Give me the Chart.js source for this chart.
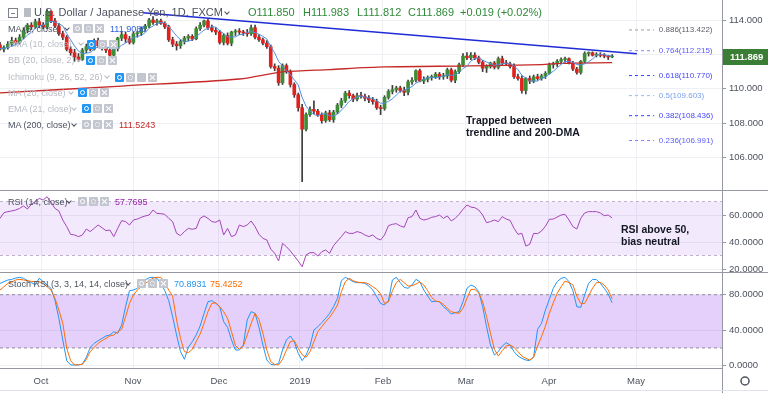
<!DOCTYPE html>
<html>
<head>
<meta charset="utf-8">
<script src="https://cdn.jsdelivr.net/npm/chart.js@4.4.1/dist/chart.umd.min.js"></script>
<style>
body { margin: 0; background: #fff; }
#wrap { position: relative; width: 768px; height: 393px; overflow: hidden; font-family: "Liberation Sans", Arial, sans-serif; }
#c { position: absolute; left: 0; top: 0; }
.t { position: absolute; white-space: nowrap; font-size: 9px; line-height: 12px; color: #4c525e; }
.off { color: #b7bac3; }
.hd { font-size: 11px; line-height: 13px; color: #4c525e; }
.px { font-size: 11px; line-height: 13px; color: #2f8a3a; }
.note { font-size: 10.5px; line-height: 11.5px; font-weight: bold; color: #131722; }
.ic { position: absolute; width: 9px; height: 9px; background: #c3c6ce; border-radius: 1px; }
.ic.on { background: #2196f3; }
.ic.eye::after { content: ""; position: absolute; left: 2px; top: 2px; width: 3px; height: 3px; border: 1px solid #fff; border-radius: 50%; }
.ic.gear::after { content: ""; position: absolute; left: 2px; top: 2px; width: 3px; height: 3px; border: 1px dotted #fff; border-radius: 50%; }
.ic.cls::before, .ic.cls::after { content: ""; position: absolute; left: 4px; top: 1px; width: 1px; height: 7px; background: #fff; transform: rotate(45deg); }
.ic.cls::after { transform: rotate(-45deg); }
.chev { position: absolute; width: 3px; height: 3px; border-right: 1px solid #4c525e; border-bottom: 1px solid #4c525e; transform: rotate(45deg); }
.sq { position: absolute; width: 8px; height: 8px; border: 1px solid #7d828c; }
.sq::after { content: ""; position: absolute; left: 2px; top: 4px; width: 4px; height: 1px; background: #7d828c; }
.flag { position: absolute; width: 7px; height: 9px; background: #b8bcc5; }
</style>
</head>
<body>
<div id="wrap">
<canvas id="c" width="768" height="393"></canvas>

<div class="sq" style="left:8px;top:8px"></div>
<div class="flag" style="left:24px;top:8px"></div>
<div class="t hd" style="left:34px;top:6px">U.S. Dollar / Japanese Yen, 1D, FXCM</div>
<div class="chev" style="left:225px;top:10px"></div>
<div class="t px" style="left:248px;top:6px">O111.850</div>
<div class="t px" style="left:303px;top:6px">H111.983</div>
<div class="t px" style="left:357px;top:6px">L111.812</div>
<div class="t px" style="left:408px;top:6px">C111.869</div>
<div class="t px" style="left:460px;top:6px">+0.019 (+0.02%)</div>

<div class="t" style="left:8px;top:23px">MA (5, close)</div>
<div class="chev" style="left:65px;top:26px"></div>
<div class="ic eye" style="left:73px;top:24px"></div><div class="ic gear" style="left:84px;top:24px"></div><div class="ic cls" style="left:95px;top:24px"></div>
<div class="t" style="left:110px;top:23px;color:#2f5fd8">111.9086</div>

<div class="t off" style="left:8px;top:38px">EMA (10, close)</div>
<div class="chev" style="left:79px;top:41px;border-color:#b7bac3"></div>
<div class="ic eye on" style="left:87px;top:40px"></div><div class="ic gear" style="left:98px;top:40px"></div><div class="ic cls" style="left:109px;top:40px"></div>

<div class="t off" style="left:8px;top:54px">BB (20, close, 2)</div>
<div class="chev" style="left:77px;top:57px;border-color:#b7bac3"></div>
<div class="ic eye on" style="left:86px;top:56px"></div><div class="ic gear" style="left:97px;top:56px"></div><div class="ic cls" style="left:108px;top:56px"></div>

<div class="t off" style="left:8px;top:71px">Ichimoku (9, 26, 52, 26)</div>
<div class="chev" style="left:105px;top:74px;border-color:#b7bac3"></div>
<div class="ic eye on" style="left:115px;top:73px"></div><div class="ic gear" style="left:126px;top:73px"></div><div class="ic" style="left:137px;top:73px"></div><div class="ic cls" style="left:148px;top:73px"></div>

<div class="t off" style="left:8px;top:87px">MA (20, close)</div>
<div class="chev" style="left:69px;top:90px;border-color:#b7bac3"></div>
<div class="ic eye on" style="left:78px;top:88px"></div><div class="ic gear" style="left:89px;top:88px"></div><div class="ic cls" style="left:100px;top:88px"></div>

<div class="t off" style="left:8px;top:103px">EMA (21, close)</div>
<div class="chev" style="left:72px;top:106px;border-color:#b7bac3"></div>
<div class="ic eye on" style="left:82px;top:104px"></div><div class="ic gear" style="left:93px;top:104px"></div><div class="ic cls" style="left:104px;top:104px"></div>

<div class="t" style="left:8px;top:119px">MA (200, close)</div>
<div class="chev" style="left:72px;top:122px"></div>
<div class="ic eye" style="left:82px;top:120px"></div><div class="ic gear" style="left:93px;top:120px"></div><div class="ic cls" style="left:104px;top:120px"></div>
<div class="t" style="left:119px;top:119px;color:#c62828">111.5243</div>

<div class="t" style="left:8px;top:196px">RSI (14, close)</div>
<div class="chev" style="left:67px;top:199px"></div>
<div class="ic eye" style="left:78px;top:197px"></div><div class="ic gear" style="left:89px;top:197px"></div><div class="ic cls" style="left:100px;top:197px"></div>
<div class="t" style="left:115px;top:196px;color:#9c27b0">57.7695</div>

<div class="t" style="left:8px;top:278px">Stoch RSI (3, 3, 14, 14, close)</div>
<div class="chev" style="left:126px;top:281px"></div>
<div class="ic eye" style="left:137px;top:279px"></div><div class="ic gear" style="left:148px;top:279px"></div><div class="ic cls" style="left:159px;top:279px"></div>
<div class="t" style="left:174px;top:278px;color:#2196f3">70.8931</div>
<div class="t" style="left:210px;top:278px;color:#ff6d00">75.4252</div>

<div class="t note" style="left:466px;top:115px">Trapped between<br>trendline and 200-DMA</div>
<div class="t note" style="left:621px;top:224px">RSI above 50,<br>bias neutral</div>
</div>

<script>
// daily candles, bar index 0 = mid Sep 2018, last = 24 Apr 2019
const opens = [
  112.55,112.30,112.40,112.60,112.80,112.70,113.00,113.40,113.70,113.60,
  113.90,113.70,113.60,114.50,113.95,113.65,113.20,113.00,112.30,112.10,
  111.85,111.70,112.25,112.45,112.30,112.80,112.50,112.35,112.25,111.95,
  112.35,112.95,113.15,112.90,112.70,113.20,113.25,113.50,113.65,114.00,
  113.85,113.95,113.80,113.60,112.85,112.60,112.50,112.75,112.95,113.05,
  112.90,113.50,113.70,113.95,113.55,113.40,113.30,112.70,113.10,112.65,
  113.30,113.35,113.30,113.25,113.20,113.55,113.00,112.85,112.65,112.45,
  111.30,111.20,110.35,111.35,111.00,110.25,109.65,108.90,107.65,108.50,
  108.80,108.70,108.50,108.15,108.60,108.20,108.65,109.05,109.30,109.75,
  109.60,109.40,109.60,109.55,109.45,109.35,109.25,108.90,108.85,109.50,
  109.85,109.95,110.05,109.90,109.80,110.40,110.50,111.05,110.45,110.55,
  110.65,110.70,110.85,110.70,110.75,111.10,110.50,111.00,111.40,111.90,
  111.80,111.95,111.80,111.55,111.20,111.30,111.50,111.25,111.75,111.50,
  111.45,111.30,110.70,110.60,109.90,110.60,110.45,110.70,110.60,110.75,
  110.90,111.40,111.45,111.60,111.70,111.75,111.50,111.15,110.95,111.60,
  112.05,112.10,111.95,112.00,111.95,111.90,111.85
];
const highs = [
  112.70,112.50,112.75,113.00,112.95,113.15,113.55,113.80,113.85,114.05,
  114.10,113.85,114.60,114.55,114.10,113.80,113.35,113.10,112.45,112.30,
  112.05,112.35,112.60,112.55,112.90,112.95,112.65,112.50,112.40,112.40,
  113.00,113.35,113.30,113.05,113.30,113.35,113.60,113.75,114.10,114.20,
  114.05,114.05,113.90,113.70,113.00,112.75,112.85,113.05,113.15,113.15,
  113.60,113.85,114.00,114.05,113.70,113.55,113.40,113.20,113.25,113.35,
  113.45,113.50,113.40,113.45,113.70,113.70,113.15,112.95,112.80,112.55,
  111.45,111.35,111.45,111.45,111.10,110.35,109.75,109.10,108.60,108.95,
  109.30,108.80,108.60,108.70,108.75,108.75,109.15,109.45,109.85,109.90,
  109.70,109.75,109.80,109.70,109.60,109.50,109.40,109.05,109.60,109.95,
  110.20,110.15,110.15,110.10,110.50,110.65,111.10,111.15,110.70,110.75,
  110.80,110.95,110.95,110.90,111.20,111.20,111.10,111.50,112.05,112.10,
  112.10,112.10,111.90,111.65,111.40,111.55,111.60,111.85,111.90,111.65,
  111.55,111.45,110.85,110.75,110.65,110.75,110.80,110.85,110.85,111.00,
  111.50,111.55,111.70,111.80,111.85,111.80,111.60,111.25,111.65,112.15,
  112.15,112.15,112.10,112.10,112.05,111.95,111.983
];
const lows = [
  112.25,112.15,112.30,112.45,112.55,112.60,112.90,113.25,113.45,113.50,
  113.55,113.50,113.50,113.85,113.55,113.10,112.85,112.20,111.95,111.60,
  111.60,111.65,112.10,112.20,112.25,112.40,112.25,112.10,111.40,111.80,
  112.20,112.80,112.70,112.60,112.60,113.00,113.10,113.35,113.55,113.75,
  113.70,113.75,113.50,112.75,112.45,112.25,112.35,112.60,112.80,112.80,
  112.85,113.40,113.60,113.45,113.30,113.15,112.60,112.55,112.55,112.50,
  113.10,113.15,113.10,113.05,113.10,112.90,112.75,112.55,112.35,111.20,
  111.05,110.20,110.25,110.90,110.10,109.50,108.70,104.60,107.55,108.40,
  108.55,108.40,108.00,108.05,108.10,108.05,108.55,108.90,109.20,109.45,
  109.25,109.30,109.45,109.30,109.20,109.10,108.80,108.50,108.75,109.40,
  109.70,109.80,109.80,109.60,109.65,110.25,110.40,110.40,110.30,110.40,
  110.50,110.60,110.55,110.55,110.60,110.40,110.35,110.90,111.30,111.70,
  111.70,111.70,111.45,111.00,110.95,111.20,111.15,111.15,111.40,111.35,
  111.20,110.60,110.50,109.75,109.70,110.30,110.35,110.50,110.50,110.60,
  110.85,111.20,111.30,111.45,111.55,111.45,111.05,110.85,110.85,111.50,
  111.90,111.90,111.85,111.85,111.80,111.70,111.812
];
const closes = [
  112.30,112.40,112.60,112.80,112.70,113.00,113.40,113.70,113.60,113.90,
  113.70,113.60,114.50,113.95,113.65,113.20,113.00,112.30,112.10,111.85,
  111.70,112.25,112.45,112.30,112.80,112.50,112.35,112.25,111.95,112.35,
  112.95,113.15,112.90,112.70,113.20,113.25,113.50,113.65,114.00,113.85,
  113.95,113.80,113.60,112.85,112.60,112.50,112.75,112.95,113.05,112.90,
  113.50,113.70,113.95,113.55,113.40,113.30,112.70,113.10,112.65,113.30,
  113.35,113.30,113.25,113.20,113.55,113.00,112.85,112.65,112.45,111.30,
  111.20,110.35,111.35,111.00,110.25,109.65,108.90,107.65,108.50,108.80,
  108.70,108.50,108.15,108.60,108.20,108.65,109.05,109.30,109.75,109.60,
  109.40,109.60,109.55,109.45,109.35,109.25,108.90,108.85,109.50,109.85,
  109.95,110.05,109.90,109.80,110.40,110.50,111.05,110.45,110.55,110.65,
  110.70,110.85,110.70,110.75,111.10,110.50,111.00,111.40,111.90,111.80,
  111.95,111.80,111.55,111.20,111.30,111.50,111.25,111.75,111.50,111.45,
  111.30,110.70,110.60,109.90,110.60,110.45,110.70,110.60,110.75,110.90,
  111.40,111.45,111.60,111.70,111.75,111.50,111.15,110.95,111.60,112.05,
  112.10,111.95,112.00,111.95,111.90,111.85,111.869
];
const ma5 = [
  112.35,112.35,112.40,112.50,112.56,112.70,112.90,113.12,113.28,113.52,
  113.66,113.70,113.86,113.93,113.88,113.78,113.66,113.22,112.85,112.49,
  112.19,112.04,112.07,112.11,112.30,112.46,112.48,112.44,112.37,112.28,
  112.37,112.53,112.66,112.81,112.98,113.04,113.11,113.26,113.52,113.65,
  113.79,113.85,113.84,113.61,113.36,113.07,112.86,112.73,112.77,112.83,
  113.03,113.22,113.42,113.52,113.62,113.58,113.38,113.21,113.03,113.01,
  113.02,113.14,113.17,113.28,113.33,113.26,113.17,113.05,112.90,112.45,
  112.09,111.59,111.33,111.04,110.83,110.52,110.23,109.49,108.99,108.70,
  108.51,108.43,108.53,108.55,108.43,108.42,108.53,108.76,108.99,109.27,
  109.42,109.53,109.58,109.52,109.47,109.44,109.30,109.16,109.17,109.27,
  109.41,109.64,109.85,109.91,110.02,110.13,110.33,110.44,110.59,110.64,
  110.68,110.64,110.69,110.73,110.82,110.78,110.81,110.95,111.18,111.32,
  111.61,111.77,111.80,111.66,111.56,111.47,111.36,111.40,111.46,111.49,
  111.45,111.34,111.11,110.79,110.62,110.45,110.45,110.45,110.62,110.68,
  110.87,111.02,111.22,111.41,111.58,111.60,111.54,111.41,111.39,111.45,
  111.57,111.73,111.94,112.01,111.98,111.93,111.91
];
// 200-day MA read at a few bars
const ma200Bars = [0, 31, 61, 72, 84, 98, 120, 138, 143, 156];
const ma200Vals = [109.76, 110.16, 110.57, 110.98, 111.12, 111.27, 111.33, 111.41, 111.48, 111.52];
// falling trendline from Oct high
const trendBars = [36.4, 162.3];
const trendVals = [114.42, 112.04];
// fibonacci retracement
const fibRatios = ['0.886', '0.764', '0.618', '0.5', '0.382', '0.236'];
const fibPrices = [113.422, 112.215, 110.770, 109.603, 108.436, 106.991];
const fibBars = [160.3, 166.7];
const fibLabelBar = 167.9;

const rsi = [
  57.5,61.7,62.5,63.0,63.7,64.9,66.7,64.4,67.9,69.9,
  72.3,71.1,73.6,69.4,64.9,63.0,56.3,51.4,45.7,45.2,
  44.0,45.2,49.6,47.7,50.1,52.6,50.6,48.4,48.9,44.0,
  50.1,55.8,55.1,52.6,56.3,57.0,58.3,59.3,60.0,63.7,
  61.2,61.0,60.5,57.5,55.1,46.4,44.7,47.7,50.1,49.4,
  50.1,57.5,59.3,57.5,55.1,54.6,56.3,45.2,50.1,44.0,
  45.2,52.6,51.4,52.6,55.6,51.4,45.7,42.7,41.5,34.8,
  31.6,25.9,39.0,36.5,33.3,29.6,25.9,21.7,30.4,32.1,
  32.1,29.6,32.8,34.1,31.6,37.3,40.7,44.0,47.7,46.4,
  46.4,47.7,46.9,45.2,44.0,45.2,42.7,41.5,45.2,52.1,
  53.1,53.6,51.9,50.9,58.0,58.8,63.7,57.5,56.3,57.0,
  58.3,58.8,60.0,57.5,59.3,55.6,57.5,60.5,64.2,67.4,
  65.9,65.4,63.7,60.0,54.3,55.1,56.3,55.1,58.8,57.0,
  56.0,50.1,45.7,46.4,37.0,38.3,46.4,46.2,48.1,51.6,
  56.8,57.0,58.5,60.0,60.5,56.3,51.4,49.6,57.5,61.5,
  62.5,62.5,62.5,61.5,59.5,60.0,57.8
];
const stochK = [
  92.8,94.7,96.6,97.3,98.8,99.6,98.5,95.8,93.6,91.3,
  98.5,94.7,91.0,87.2,74.0,53.4,29.0,5.7,0.8,0.8,
  0.8,1.9,9.4,20.7,25.2,28.2,30.8,33.5,34.6,38.3,
  36.5,45.9,66.5,84.5,85.3,87.2,92.8,96.6,99.2,99.6,
  98.5,92.8,84.5,73.3,55.2,34.6,15.8,7.2,20.7,27.1,
  34.6,44.7,59.0,72.1,73.3,70.2,66.5,49.6,43.2,29.0,
  17.7,17.7,23.3,51.5,60.9,59.0,43.2,23.3,6.4,1.5,
  0.8,2.7,17.7,29.0,33.5,27.1,13.9,5.7,12.0,22.2,
  40.2,44.0,48.5,53.4,59.0,66.5,75.9,95.8,99.6,97.3,
  94.7,93.6,93.6,92.8,89.8,85.3,77.8,70.2,68.4,73.3,
  96.6,99.6,93.6,88.3,87.2,91.0,97.3,94.7,85.3,78.5,
  72.1,72.5,72.1,66.5,62.8,58.2,59.7,60.9,72.1,87.2,
  90.9,89.0,83.4,66.5,44.0,23.3,12.0,15.8,22.2,25.9,
  23.3,15.8,10.9,8.3,6.4,5.7,10.2,41.0,47.7,62.8,
  74.8,87.2,94.7,98.5,99.6,94.7,84.5,66.5,65.7,79.6,
  92.8,97.3,97.0,92.8,87.2,80.8,70.9
];
const stochD = [
  85.3,89.0,92.8,94.3,96.6,97.3,96.6,95.8,95.0,94.7,
  94.7,92.8,89.0,85.3,75.9,62.8,47.7,19.6,5.7,0.8,
  1.2,1.5,7.2,15.8,20.7,25.2,28.2,30.8,33.5,34.6,
  38.3,41.0,55.2,70.2,79.7,85.3,89.0,92.8,95.4,98.8,
  99.6,99.6,93.6,85.3,78.3,51.5,30.8,15.8,14.7,18.4,
  27.1,35.7,47.7,60.9,70.2,71.0,66.5,60.9,53.4,38.3,
  22.9,18.4,22.2,34.6,47.7,59.0,52.2,36.5,17.7,4.5,
  1.5,0.8,7.2,17.7,27.1,28.2,19.6,12.4,9.4,15.8,
  27.1,38.3,44.0,49.6,54.5,60.9,68.4,83.4,94.7,98.5,
  95.8,94.3,93.6,93.6,92.0,89.0,86.0,80.9,70.2,72.1,
  84.5,93.6,97.3,93.6,89.8,90.2,92.0,94.3,91.0,84.5,
  77.0,72.9,72.1,69.1,64.7,60.9,59.7,59.0,64.7,75.9,
  86.0,86.0,82.1,72.1,55.2,36.5,18.4,10.9,16.9,22.2,
  23.3,20.7,15.8,10.9,8.3,6.4,9.4,22.2,32.7,44.7,
  59.0,70.9,81.5,89.0,95.4,93.6,91.0,78.3,70.2,70.2,
  78.5,87.2,93.6,93.9,91.0,85.3,75.4
];

// axes
const monthLabels = ['Oct', 'Nov', 'Dec', '2019', 'Feb', 'Mar', 'Apr', 'May'];
const monthTickBars = [10.45, 33.9, 55.8, 76.45, 97.6, 118.75, 139.9, 162.1];
const priceTicks = [106, 108, 110, 112, 114];
const rsiTicks = [20, 40, 60];
const stochTicks = [0, 40, 80];
const rsiBand = [70, 30];
const stochBand = [80, 20];
const lastBar = 184;

const UP = '#3f8c36', DOWN = '#e0221f', WICK = '#3b3b3b';
const GRID = '#eef0f3', AXIS_TXT = '#4c525e';
const fibLineColors = ['#9a9ca3', '#8585ff', '#3b3bff', '#9ab6ff', '#3b3bff', '#8080ff'];
const fibTextColors = ['#5d6068', '#5a5aff', '#4747ff', '#7aa0f0', '#4747ff', '#5c5cff'];
const font = { family: 'Liberation Sans', size: 9.5 };

const pts = (arr) => arr.map((v, i) => ({ x: i, y: v }));
const candleColor = ctx => closes[ctx.dataIndex] >= opens[ctx.dataIndex] ? UP : DOWN;

const datasets = [
    {
        type: 'bar', label: 'wicks', yAxisID: 'y', order: 5, grouped: false,
        data: highs.map((h, i) => ({ x: i, y: [lows[i], h] })),
        backgroundColor: WICK, barThickness: 1, minBarLength: 1
    },
    {
        type: 'bar', label: 'bodies', yAxisID: 'y', order: 4, grouped: false,
        data: opens.map((o, i) => ({ x: i, y: [o, closes[i]] })),
        backgroundColor: candleColor, barThickness: 3, minBarLength: 1
    },
    {
        label: 'MA 200', yAxisID: 'y', order: 3,
        data: ma200Bars.map((b, k) => ({ x: b, y: ma200Vals[k] })),
        borderColor: '#c62828', borderWidth: 1.3, pointRadius: 0, tension: 0.3
    },
    {
        label: 'MA 5', yAxisID: 'y', order: 2,
        data: pts(ma5), borderColor: '#4f8fe0', borderWidth: 1, pointRadius: 0
    },
    {
        label: 'trendline', yAxisID: 'y', order: 1,
        data: trendBars.map((b, k) => ({ x: b, y: trendVals[k] })),
        borderColor: '#1f2bd6', borderWidth: 1.4, pointRadius: 0
    }
];

// fib retracement levels
fibPrices.forEach((p, k) => {
    datasets.push({
        label: 'fib ' + fibRatios[k], yAxisID: 'y', order: 1,
        data: fibBars.map(b => ({ x: b, y: p })),
        borderColor: fibLineColors[k], borderWidth: 1, borderDash: [3, 3], pointRadius: 0
    });
});

// RSI pane
datasets.push(
    {
        label: 'rsi 70', yAxisID: 'yRsi', order: 6,
        data: [{ x: 0, y: rsiBand[0] }, { x: lastBar, y: rsiBand[0] }],
        borderColor: '#bfb2cf', borderWidth: 1, borderDash: [3, 3], pointRadius: 0
    },
    {
        label: 'rsi 30', yAxisID: 'yRsi', order: 6,
        data: [{ x: 0, y: rsiBand[1] }, { x: lastBar, y: rsiBand[1] }],
        borderColor: '#bfb2cf', borderWidth: 1, borderDash: [3, 3], pointRadius: 0,
        fill: '-1', backgroundColor: 'rgba(149, 76, 233, 0.12)'
    },
    {
        label: 'RSI', yAxisID: 'yRsi', order: 1,
        data: pts(rsi), borderColor: '#a544b8', borderWidth: 1, pointRadius: 0
    }
);

// Stoch RSI pane
datasets.push(
    {
        label: 'stoch 80', yAxisID: 'yStoch', order: 6,
        data: [{ x: 0, y: stochBand[0] }, { x: lastBar, y: stochBand[0] }],
        borderColor: '#8e8a99', borderWidth: 1, borderDash: [3, 3], pointRadius: 0
    },
    {
        label: 'stoch 20', yAxisID: 'yStoch', order: 6,
        data: [{ x: 0, y: stochBand[1] }, { x: lastBar, y: stochBand[1] }],
        borderColor: '#8e8a99', borderWidth: 1, borderDash: [3, 3], pointRadius: 0,
        fill: '-1', backgroundColor: 'rgba(153, 62, 240, 0.25)'
    },
    {
        label: '%K', yAxisID: 'yStoch', order: 2,
        data: pts(stochK), borderColor: '#2196f3', borderWidth: 1, pointRadius: 0
    },
    {
        label: '%D', yAxisID: 'yStoch', order: 1,
        data: pts(stochD), borderColor: '#ff6d00', borderWidth: 1, pointRadius: 0
    }
);

function paneAxis(ticks, min, max, weight, digits) {
    return {
        type: 'linear', position: 'right', stack: 'panes', stackWeight: weight,
        min: min, max: max,
        afterBuildTicks: s => { s.ticks = ticks.map(v => ({ value: v })); },
        // fixed width, and no label padding so the panes keep their exact heights
        afterFit: s => { s.width = 46; s.paddingTop = 0; s.paddingBottom = 0; },
        grid: { color: GRID, tickLength: 4, tickColor: '#9598a1' },
        border: { color: '#9598a1' },
        ticks: { font: font, color: AXIS_TXT, padding: 3, callback: v => v.toFixed(digits) }
    };
}

// pane separators, last price tag and fib labels
const decorations = {
    id: 'decorations',
    afterDraw(chart) {
        const ctx = chart.ctx;
        const x = chart.scales.x, y = chart.scales.y;
        ctx.save();
        ctx.font = '8px "Liberation Sans"';
        ctx.textBaseline = 'middle';
        fibPrices.forEach((p, k) => {
            ctx.fillStyle = fibTextColors[k];
            ctx.fillText(fibRatios[k] + '(' + p.toFixed(3) + ')', x.getPixelForValue(fibLabelBar), y.getPixelForValue(p));
        });
        ctx.strokeStyle = '#9598a1';
        ctx.lineWidth = 1;
        [chart.scales.yRsi.top, chart.scales.yStoch.top].forEach(t => {
            ctx.beginPath();
            ctx.moveTo(0, Math.round(t) + 0.5);
            ctx.lineTo(chart.width, Math.round(t) + 0.5);
            ctx.stroke();
        });
        ctx.beginPath();
        ctx.moveTo(Math.round(y.left) + 0.5, 0);
        ctx.lineTo(Math.round(y.left) + 0.5, chart.height);
        ctx.stroke();
        ctx.strokeStyle = '#e0e3eb';
        ctx.beginPath();
        ctx.moveTo(0, chart.height - 2.5);
        ctx.lineTo(chart.width, chart.height - 2.5);
        ctx.stroke();
        // last price
        const last = closes[closes.length - 1];
        const py = Math.round(y.getPixelForValue(last));
        ctx.fillStyle = '#3a7d34';
        ctx.fillRect(y.left + 1, py - 8, chart.width - y.left - 1, 16);
        ctx.fillStyle = '#fff';
        ctx.font = 'bold 9.5px "Liberation Sans"';
        ctx.fillText(last.toFixed(3), y.left + 8, py + 0.5);
        // settings wheel
        ctx.strokeStyle = '#50535e';
        ctx.lineWidth = 1.5;
        ctx.beginPath();
        ctx.arc(745, 381, 4, 0, Math.PI * 2);
        ctx.stroke();
        ctx.restore();
    }
};

new Chart(document.getElementById('c'), {
    type: 'line',
    data: { datasets: datasets },
    options: {
        responsive: false,
        animation: false,
        events: [],
        layout: { padding: 0 },
        plugins: { legend: { display: false }, tooltip: { enabled: false } },
        scales: {
            x: {
                type: 'linear', position: 'bottom', min: 0, max: lastBar, offset: false,
                afterBuildTicks: s => { s.ticks = monthTickBars.map(v => ({ value: v })); },
                afterFit: s => { s.height = 25; s.paddingLeft = 0; s.paddingRight = 0; },
                grid: { color: GRID, drawTicks: false, offset: false },
                border: { color: '#9598a1' },
                ticks: {
                    font: font, color: AXIS_TXT, padding: 8, maxRotation: 0, autoSkip: false,
                    callback: (v) => monthLabels[monthTickBars.indexOf(v)]
                }
            },
            y: paneAxis(priceTicks, 104.116, 115.163, 190, 3),
            yRsi: paneAxis(rsiTicks, 17.78, 78.52, 82, 4),
            yStoch: paneAxis(stochTicks, -2.6, 105.6, 96, 4)
        }
    },
    plugins: [decorations]
});
</script>
</body>
</html>
